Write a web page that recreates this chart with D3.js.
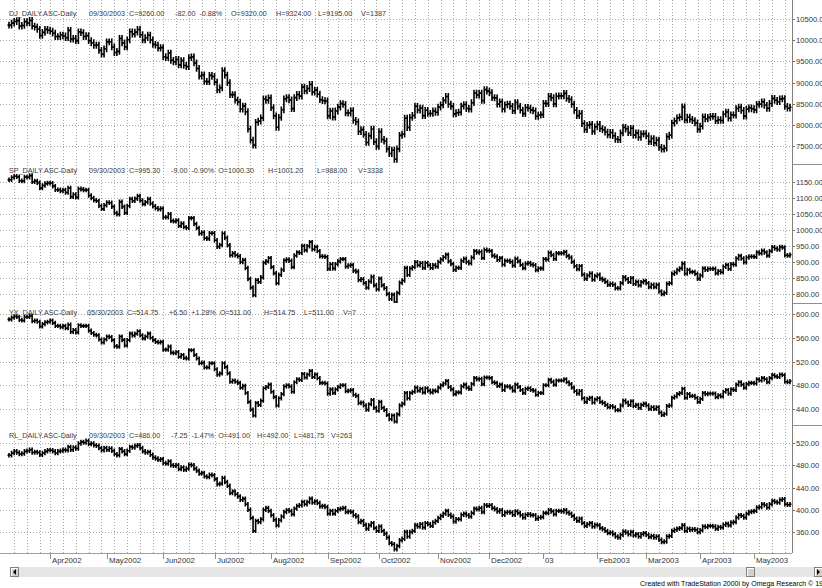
<!DOCTYPE html>
<html>
<head>
<meta charset="utf-8">
<script src="https://cdn.jsdelivr.net/npm/d3@7"></script>
<style>
  body { margin: 0; background: #fff; }
  svg { display: block; font-family: "Liberation Sans", Arial, sans-serif; }
</style>
</head>
<body>
<div id="chart"></div>
<script>
const W = 822, H = 588;
const AXIS_X = 792;
const BOTTOM = 553;

// trading calendar shown in the window
const FIRST_DAY = "2002-03-07";
const LAST_DAY = "2003-05-21";
const HOLIDAYS = ["2002-03-29", "2002-05-27", "2002-07-04", "2002-09-02", "2002-11-28",
                  "2002-12-25", "2003-01-01", "2003-01-20", "2003-02-17", "2003-04-18"];

const monthKeys   = ["2002-04", "2002-05", "2002-06", "2002-07", "2002-08", "2002-09", "2002-10",
                     "2002-11", "2002-12", "2003-01", "2003-02", "2003-03", "2003-04", "2003-05"];
const monthLabels = ["Apr2002", "May2002", "Jun2002", "Jul2002", "Aug2002", "Sep2002", "Oct2002",
                     "Nov2002", "Dec2002", "03", "Feb2003", "Mar2003", "Apr2003", "May2003"];

// daily closes, one line per month (Mar 2002 .. May 2003)
const djCloses = [
  10355, 10402, 10441, 10462, 10331, 10347, 10437, 10407, 10465, 10331, 10309, 10257, 10111, 10183, 10256, 10234,
  10212, 10164, 10086, 10085, 10121, 10100, 10058, 10231, 10026, 10041, 9990, 10197, 10177, 10085, 10107, 9987, 9939, 9880, 9885, 9760, 9669, 9796,
  9959, 9961, 9839, 9708, 9736, 10041, 9937, 9839, 10009, 10198, 10143, 10189, 10253, 10129, 10005, 10058, 10116, 10004, 9900, 9881, 9811, 9825,
  9609, 9587, 9696, 9524, 9489, 9545, 9417, 9517, 9402, 9374, 9587, 9606, 9461, 9331, 9153, 9181, 9026, 9020, 9169, 9143,
  9009, 8827, 8875, 9280, 9175, 8996, 8714, 8713, 8584, 8539, 8373, 8442, 8309, 7900, 7640, 7520, 8060, 8087, 8164, 8612, 8580, 8637,
  8406, 8213, 7943, 8174, 8356, 8612, 8645, 8588, 8382, 8643, 8718, 8678, 8891, 8805, 8858, 8953, 8772, 8819, 8724, 8594, 8570, 8564,
  8209, 8326, 8184, 8327, 8419, 8502, 8481, 8280, 8279, 8335, 8107, 8072, 7842, 7886, 7772, 7583, 7741, 7897, 7601, 7492,
  7838, 7655, 7617, 7428, 7323, 7401, 7186, 7433, 7750, 7778, 8156, 7936, 8175, 8222, 8438, 8350, 8395, 8218, 8344, 8268, 8268, 8327, 8297,
  8418, 8471, 8578, 8671, 8486, 8437, 8258, 8286, 8298, 8442, 8479, 8386, 8374, 8523, 8746, 8705, 8749, 8576, 8831, 8796,
  8762, 8642, 8637, 8489, 8545, 8373, 8474, 8489, 8438, 8333, 8527, 8435, 8347, 8264, 8411, 8393, 8348, 8332, 8203, 8232, 8242,
  8508, 8501, 8673, 8640, 8495, 8676, 8685, 8685, 8742, 8623, 8597, 8486, 8343, 8218, 8269, 8031, 7889, 7989, 8010, 7846, 7954,
  8009, 7913, 7885, 7830, 7765, 7820, 7743, 7658, 7649, 7808, 7941, 7900, 7815, 7918, 7758, 7809, 7706, 7784, 7791,
  7737, 7605, 7676, 7573, 7640, 7468, 7424, 7452, 7721, 7759, 8041, 8094, 8165, 8186, 8422, 8115, 8180, 8129, 8101, 8045, 7892,
  7969, 8185, 8140, 8177, 8200, 8198, 8097, 8121, 8103, 8251, 8302, 8157, 8237, 8228, 8385, 8416, 8340, 8206, 8371, 8402, 8380,
  8354, 8483, 8488, 8544, 8461, 8392, 8504, 8626, 8579, 8547, 8613, 8619, 8434, 8393, 8416
];

const spCloses = [
  1157, 1164, 1168, 1166, 1154, 1153, 1166, 1165, 1170, 1151, 1153, 1148, 1131, 1139, 1145, 1147,
  1146, 1137, 1126, 1126, 1122, 1125, 1117, 1131, 1104, 1111, 1102, 1129, 1127, 1125, 1125, 1108, 1100, 1093, 1091, 1076, 1066, 1077,
  1086, 1085, 1073, 1053, 1049, 1088, 1073, 1054, 1075, 1097, 1091, 1098, 1106, 1092, 1081, 1087, 1097, 1083, 1074, 1068, 1065, 1067,
  1040, 1040, 1049, 1029, 1027, 1030, 1013, 1020, 1009, 1007, 1037, 1037, 1019, 1006, 989, 992, 974, 973, 990, 990,
  968, 948, 953, 989, 976, 952, 921, 927, 921, 918, 900, 906, 881, 847, 820, 797, 843, 838, 852, 898, 902, 912,
  884, 865, 834, 860, 876, 905, 908, 904, 884, 920, 930, 929, 950, 937, 949, 962, 940, 947, 934, 918, 917, 916,
  879, 893, 880, 893, 902, 909, 909, 886, 889, 891, 873, 870, 844, 846, 834, 820, 839, 854, 827, 815,
  848, 827, 818, 800, 785, 798, 776, 803, 835, 842, 881, 860, 880, 884, 899, 890, 896, 882, 897, 890, 882, 890, 886,
  900, 908, 915, 923, 902, 894, 876, 882, 882, 904, 910, 900, 896, 914, 934, 930, 932, 913, 938, 936,
  934, 920, 917, 907, 912, 892, 904, 904, 901, 889, 910, 902, 891, 881, 895, 897, 892, 890, 875, 880, 880,
  909, 908, 929, 922, 910, 927, 927, 927, 931, 919, 914, 901, 887, 878, 887, 861, 848, 858, 864, 845, 856,
  860, 848, 844, 838, 829, 832, 829, 818, 818, 834, 852, 846, 838, 849, 832, 838, 827, 837, 841,
  834, 822, 829, 822, 829, 808, 800, 804, 832, 834, 863, 867, 875, 880, 895, 864, 875, 869, 869, 863, 848,
  858, 880, 876, 879, 879, 879, 865, 871, 868, 885, 891, 879, 893, 892, 911, 919, 911, 899, 914, 917, 917,
  916, 930, 927, 935, 930, 920, 934, 946, 942, 939, 947, 945, 921, 920, 923
];

const yxCloses = [
  591, 594, 596, 595, 590, 589, 595, 595, 597, 588, 589, 587, 579, 583, 586, 587,
  589, 585, 580, 580, 578, 580, 576, 582, 570, 573, 569, 581, 580, 580, 580, 572, 568, 565, 564, 557, 552, 557,
  562, 561, 556, 546, 545, 562, 556, 547, 556, 567, 564, 567, 571, 564, 559, 562, 567, 560, 556, 553, 552, 553,
  540, 540, 545, 535, 534, 536, 528, 531, 526, 525, 539, 539, 531, 525, 517, 518, 510, 510, 517, 517,
  507, 498, 500, 517, 511, 500, 486, 488, 486, 484, 476, 479, 467, 452, 439, 429, 450, 447, 454, 475, 477, 481,
  469, 460, 446, 458, 465, 478, 480, 478, 469, 485, 490, 489, 499, 493, 498, 504, 494, 498, 492, 484, 484, 483,
  466, 473, 467, 473, 477, 480, 480, 470, 471, 472, 464, 462, 450, 451, 446, 439, 448, 455, 442, 437,
  452, 442, 438, 430, 423, 429, 419, 431, 446, 449, 467, 458, 467, 469, 476, 471, 474, 468, 475, 471, 468, 471, 470,
  476, 480, 483, 487, 477, 473, 465, 468, 468, 478, 481, 476, 474, 482, 492, 490, 491, 482, 493, 493,
  492, 485, 484, 479, 481, 472, 478, 478, 476, 471, 481, 477, 472, 467, 474, 475, 472, 471, 464, 467, 467,
  480, 480, 489, 486, 481, 488, 488, 488, 490, 485, 482, 476, 470, 466, 470, 458, 452, 457, 459, 451, 456,
  458, 452, 450, 447, 443, 445, 443, 438, 438, 446, 454, 451, 447, 453, 445, 447, 442, 447, 449,
  446, 440, 443, 440, 443, 434, 430, 432, 445, 446, 459, 461, 465, 467, 474, 459, 465, 462, 462, 459, 452,
  457, 467, 465, 466, 466, 466, 460, 463, 461, 469, 472, 466, 473, 472, 481, 485, 481, 476, 482, 484, 484,
  483, 490, 488, 492, 490, 485, 492, 497, 495, 494, 498, 497, 486, 485, 487
];

const rlCloses = [
  498, 502, 505, 503, 500, 501, 505, 506, 508, 503, 504, 503, 499, 502, 505, 507,
  507, 505, 502, 505, 506, 508, 507, 513, 508, 512, 510, 519, 522, 521, 524, 518, 519, 516, 515, 511, 507, 511,
  508, 510, 506, 500, 498, 509, 505, 500, 506, 513, 512, 515, 516, 511, 505, 503, 504, 499, 494, 492, 490, 491,
  484, 483, 487, 480, 479, 480, 473, 476, 472, 474, 481, 480, 474, 470, 465, 466, 460, 459, 463, 462,
  455, 446, 447, 457, 450, 443, 430, 433, 428, 424, 418, 420, 410, 400, 385, 362, 380, 378, 383, 400, 403, 398,
  390, 382, 372, 381, 388, 396, 399, 398, 392, 402, 407, 408, 414, 410, 414, 420, 413, 415, 412, 406, 407, 405,
  393, 398, 393, 398, 401, 402, 403, 396, 397, 396, 390, 388, 378, 380, 373, 366, 372, 376, 367, 362,
  370, 362, 357, 350, 340, 338, 329, 335, 345, 348, 360, 352, 360, 362, 372, 370, 374, 368, 376, 374, 371, 377, 380,
  385, 389, 393, 398, 391, 388, 379, 383, 383, 391, 393, 390, 388, 394, 402, 401, 403, 396, 408, 407,
  408, 403, 401, 397, 399, 391, 395, 396, 395, 391, 397, 394, 390, 386, 391, 392, 390, 390, 384, 386, 387,
  394, 394, 399, 397, 392, 398, 398, 397, 399, 395, 393, 389, 384, 380, 384, 376, 371, 374, 376, 370, 373,
  372, 367, 365, 362, 358, 359, 356, 352, 350, 355, 361, 359, 356, 360, 354, 356, 352, 356, 358,
  355, 351, 353, 350, 352, 346, 342, 343, 352, 353, 362, 364, 366, 367, 372, 362, 366, 364, 365, 364, 360,
  363, 370, 369, 371, 371, 370, 366, 369, 368, 373, 375, 372, 377, 378, 386, 390, 389, 386, 393, 396, 397,
  398, 404, 405, 410, 408, 404, 410, 416, 414, 413, 418, 419, 410, 409, 410
];

// status line of each panel
const djInfo = ["DJ_DAILY.ASC-Daily", "09/30/2003", "C=9260.00", "-82.00", "-0.88%", "O=9320.00", "H=9324.00", "L=9195.00", "V=1387"];
const spInfo = ["SP_DAILY.ASC-Daily", "09/30/2003", "C=995.30", "-9.00", "-0.90%", "O=1000.30", "H=1001.20", "L=988.00", "V=3338"];
const yxInfo = ["YX_DAILY.ASC-Daily", "05/30/2003", "C=514.75", "+6.50", "+1.28%", "O=511.00", "H=514.75", "L=511.00", "V=7"];
const rlInfo = ["RL_DAILY.ASC-Daily", "09/30/2003", "C=486.00", "-7.25", "-1.47%", "O=491.00", "H=492.00", "L=481.75", "V=263"];

const djTicks = [7500, 8000, 8500, 9000, 9500, 10000, 10500];
const spTicks = [800, 850, 900, 950, 1000, 1050, 1100, 1150];
const yxTicks = [440, 480, 520, 560, 600];
const rlTicks = [360, 400, 440, 480, 520];

const panels = [
  { closes: djCloses, info: djInfo, ticks: djTicks, top: 0,   bottom: 164, domain: [7500, 10500], range: [146, 19],  pad: 80,
    titleY: 15.5, infoX: [9, 89, 128, 175, 196, 231, 276, 318, 361] },
  { closes: spCloses, info: spInfo, ticks: spTicks, top: 164, bottom: 303, domain: [800, 1150],   range: [294, 182], pad: 7,
    titleY: 172.5, infoX: [9, 89, 128, 171, 188, 218, 268, 317, 358] },
  { closes: yxCloses, info: yxInfo, ticks: yxTicks, top: 303, bottom: 425, domain: [440, 600],    range: [409, 314], pad: 3.5,
    titleY: 315, infoX: [9, 87, 124, 169, 187, 218, 264, 304, 343] },
  { closes: rlCloses, info: rlInfo, ticks: rlTicks, top: 425, bottom: BOTTOM, domain: [360, 520], range: [532, 443], pad: 4,
    titleY: 437.5, infoX: [9, 89, 128, 171, 186, 216, 257, 294, 331] }
];

const fmt = d3.timeFormat("%Y-%m-%d");
const parse = d3.timeParse("%Y-%m-%d");
const days = d3.timeDay.range(parse(FIRST_DAY), d3.timeDay.offset(parse(LAST_DAY), 1))
  .filter(d => d.getDay() !== 0 && d.getDay() !== 6 && !HOLIDAYS.includes(fmt(d)))
  .map(fmt);

const x = d3.scalePoint().domain(days).range([9, 790]);

const svg = d3.select("#chart").append("svg")
  .attr("width", W)
  .attr("height", H);

svg.append("rect").attr("width", W).attr("height", H).attr("fill", "#fff");

// weekly dotted grid (first trading day of each week)
const weekStarts = days.filter((d, i) => i > 0 && parse(d).getDay() <= parse(days[i - 1]).getDay());
svg.append("g")
  .selectAll("line")
  .data(weekStarts)
  .join("line")
  .attr("x1", d => Math.round(x(d)) + 0.5)
  .attr("x2", d => Math.round(x(d)) + 0.5)
  .attr("y1", 0)
  .attr("y2", BOTTOM)
  .attr("stroke", "#a8a8a8")
  .attr("stroke-dasharray", "1,2")
  .attr("shape-rendering", "crispEdges");

panels.forEach((p, k) => {
  const y = d3.scaleLinear().domain(p.domain).range(p.range);

  svg.append("clipPath").attr("id", "clip" + k)
    .append("rect").attr("x", 0).attr("y", p.top).attr("width", AXIS_X).attr("height", p.bottom - p.top);

  // horizontal grid
  svg.append("g")
    .selectAll("line")
    .data(p.ticks)
    .join("line")
    .attr("x1", 0)
    .attr("x2", AXIS_X)
    .attr("y1", d => Math.round(y(d)) + 0.5)
    .attr("y2", d => Math.round(y(d)) + 0.5)
    .attr("stroke", "#a8a8a8")
    .attr("stroke-dasharray", "1,2")
    .attr("shape-rendering", "crispEdges");

  // right price axis
  const axis = svg.append("g");
  axis.selectAll("line")
    .data(p.ticks)
    .join("line")
    .attr("x1", AXIS_X).attr("x2", AXIS_X + 3)
    .attr("y1", d => Math.round(y(d)) + 0.5)
    .attr("y2", d => Math.round(y(d)) + 0.5)
    .attr("stroke", "#707070")
    .attr("shape-rendering", "crispEdges");
  axis.selectAll("text")
    .data(p.ticks)
    .join("text")
    .attr("x", AXIS_X + 4)
    .attr("y", d => y(d) + 3)
    .attr("font-size", 7.6)
    .attr("fill", "#333")
    .text(d3.format(".2f"));

  if (k > 0) {
    svg.append("line")
      .attr("x1", AXIS_X).attr("x2", W)
      .attr("y1", p.top + 0.5).attr("y2", p.top + 0.5)
      .attr("stroke", "#909090")
      .attr("shape-rendering", "crispEdges");
  }

  // OHLC-style bars: open tick at previous close, close tick at close
  const bars = p.closes.map((c, i) => ({ day: days[i], o: i ? p.closes[i - 1] : c, c: c }));
  svg.append("g")
    .attr("clip-path", "url(#clip" + k + ")")
    .selectAll("path")
    .data(bars)
    .join("path")
    .attr("d", d => {
      const cx = x(d.day);
      const hi = y(Math.max(d.o, d.c) + p.pad);
      const lo = y(Math.min(d.o, d.c) - p.pad);
      return "M" + cx + "," + hi + "V" + lo +
             "M" + (cx - 1.5) + "," + y(d.o) + "H" + cx +
             "M" + cx + "," + y(d.c) + "H" + (cx + 1.5);
    })
    .attr("fill", "none")
    .attr("stroke", "#000")
    .attr("stroke-width", 1.6);

  // status line, pieces pushed right when they would touch
  let prevEnd = -Infinity;
  svg.append("g")
    .selectAll("text")
    .data(p.info)
    .join("text")
    .attr("y", p.titleY)
    .attr("font-size", 7.2)
    .attr("fill", "#3a3a3a")
    .text(d => d)
    .each(function(d, i) {
      const tx = Math.max(p.infoX[i], prevEnd + 4);
      d3.select(this).attr("x", tx);
      prevEnd = tx + this.getComputedTextLength();
    });
});

// axis frame
svg.append("line")
  .attr("x1", AXIS_X + 0.5).attr("x2", AXIS_X + 0.5)
  .attr("y1", 0).attr("y2", BOTTOM)
  .attr("stroke", "#808080")
  .attr("shape-rendering", "crispEdges");
svg.append("line")
  .attr("x1", 0).attr("x2", AXIS_X)
  .attr("y1", BOTTOM + 0.5).attr("y2", BOTTOM + 0.5)
  .attr("stroke", "#a0a0a0")
  .attr("shape-rendering", "crispEdges");

// month ticks and labels
const monthStarts = monthKeys.map(m => days.find(d => d.slice(0, 7) === m));
const months = svg.append("g");
months.selectAll("line")
  .data(monthStarts)
  .join("line")
  .attr("x1", d => Math.round(x(d)) + 0.5)
  .attr("x2", d => Math.round(x(d)) + 0.5)
  .attr("y1", BOTTOM)
  .attr("y2", BOTTOM + 6)
  .attr("stroke", "#909090")
  .attr("shape-rendering", "crispEdges");
months.selectAll("text")
  .data(monthStarts)
  .join("text")
  .attr("x", d => Math.round(x(d)) + 2)
  .attr("y", BOTTOM + 10)
  .attr("font-size", 7.8)
  .attr("fill", "#333")
  .text((d, i) => monthLabels[i]);

// scroll bar
const sb = svg.append("g");
sb.append("rect").attr("x", 10).attr("y", 567).attr("width", W - 10).attr("height", 10).attr("fill", "#e6e6e6");
[[10, "left"], [746, "thumb"], [814, "right"]].forEach(([bx, kind]) => {
  sb.append("rect").attr("x", bx + 0.5).attr("y", 567.5).attr("width", 8).attr("height", 9)
    .attr("fill", "#d4d0c8").attr("stroke", "#808080").attr("shape-rendering", "crispEdges");
  sb.append("path")
    .attr("d", "M" + (bx + 1) + ",576V568H" + (bx + 8))
    .attr("fill", "none").attr("stroke", "#fff").attr("shape-rendering", "crispEdges");
  if (kind === "left") {
    sb.append("path").attr("d", "M" + (bx + 3) + ",572L" + (bx + 6) + ",569V575Z").attr("fill", "#000");
  } else if (kind === "right") {
    sb.append("path").attr("d", "M" + (bx + 6) + ",572L" + (bx + 3) + ",569V575Z").attr("fill", "#000");
  }
});

svg.append("text")
  .attr("x", 640)
  .attr("y", 586)
  .attr("font-size", 7)
  .attr("fill", "#000")
  .text("Created with TradeStation 2000i by Omega Research \u00a9 1999");
</script>
</body>
</html>
